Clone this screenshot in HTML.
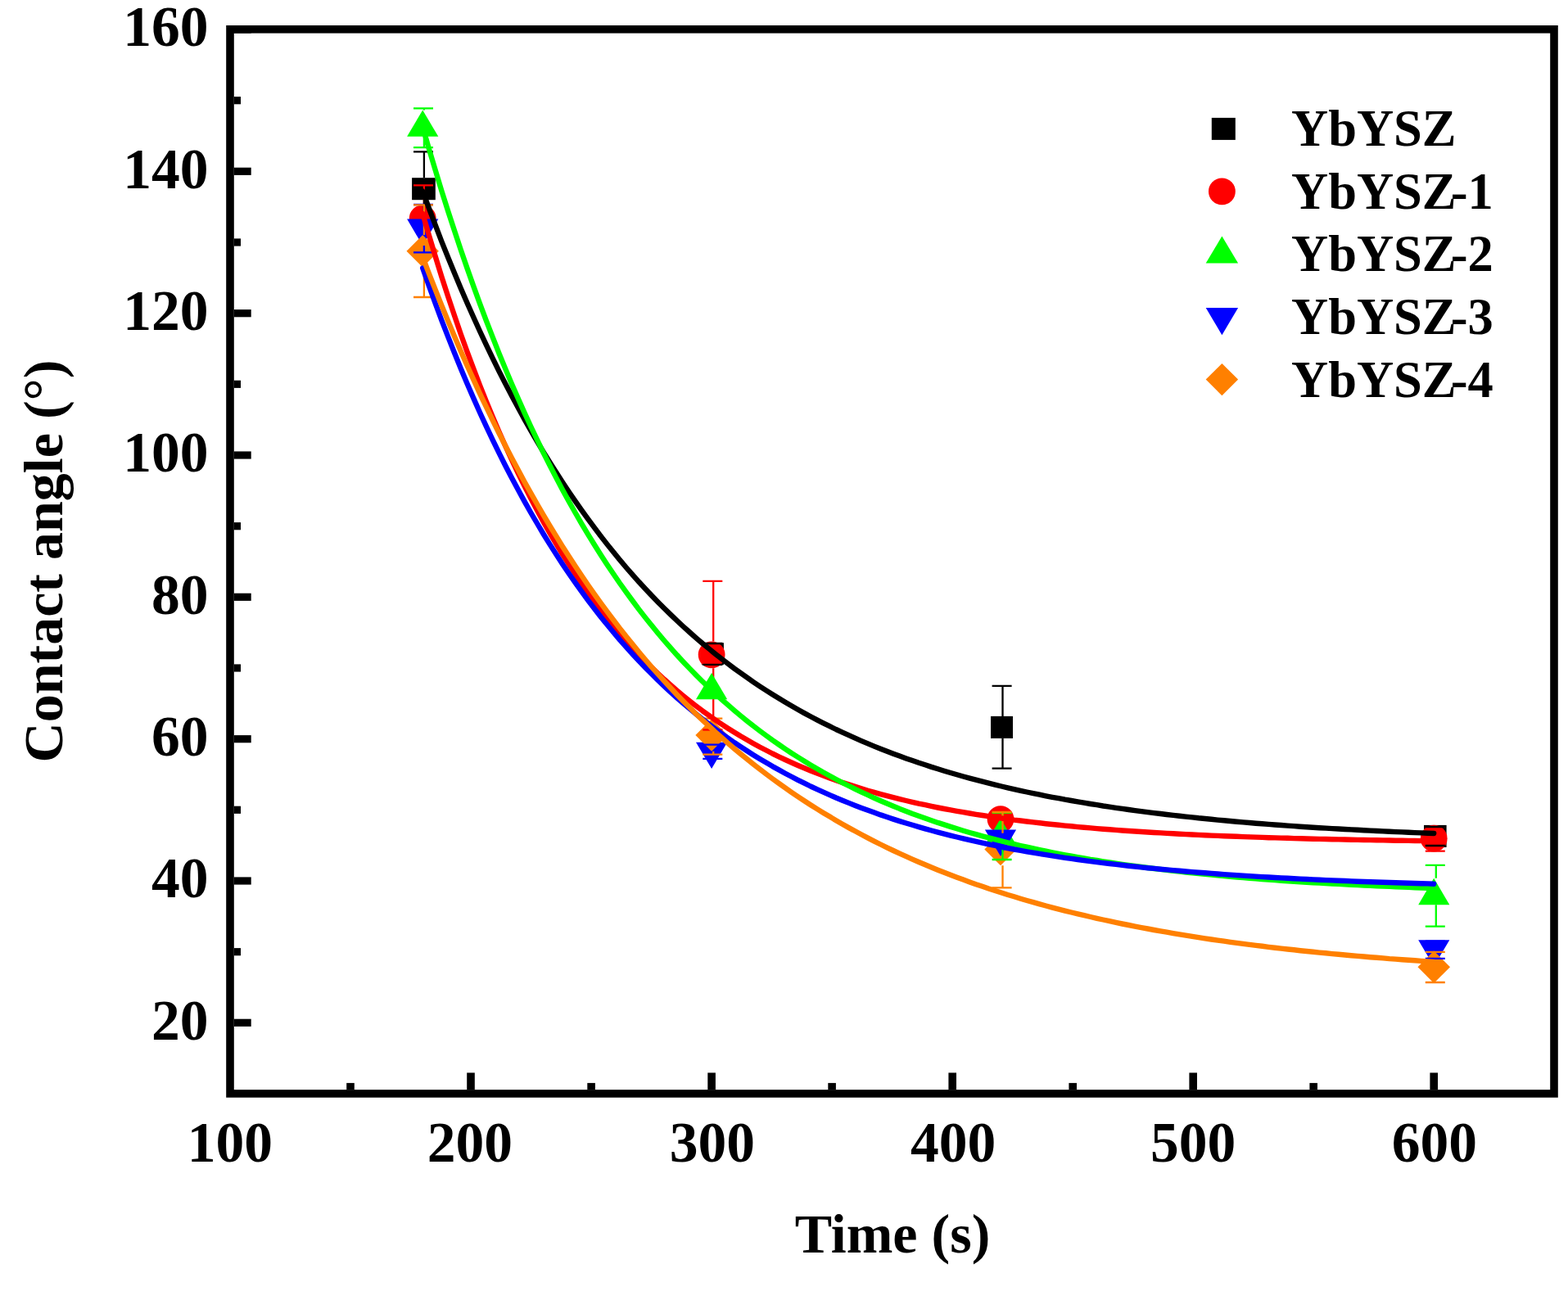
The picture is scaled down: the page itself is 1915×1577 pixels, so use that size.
<!DOCTYPE html><html><head><meta charset="utf-8"><style>html,body{margin:0;padding:0;background:#fff;overflow:hidden;}svg{display:block}text{font-family:'Liberation Serif','Times New Roman',serif;font-weight:bold}</style></head><body>
<svg width="1915" height="1577" viewBox="0 0 1915 1577">
<rect x="0" y="0" width="1915" height="1577" fill="#fff"/>
<g id="data">
<rect x="503.1" y="217.2" width="28.7" height="27" fill="#000000"/><rect x="856.9" y="785.2" width="27" height="27" fill="#000000"/><rect x="1210.0" y="874.9" width="27" height="27" fill="#000000"/><rect x="1739.0" y="1007.9" width="27.6" height="27" fill="#000000"/>
<circle cx="516.2" cy="266.8" r="16.4" fill="#ff0000"/><circle cx="869.1" cy="799.8" r="16.4" fill="#ff0000"/><circle cx="1222.0" cy="1000.6" r="16.4" fill="#ff0000"/><circle cx="1751.2" cy="1024.2" r="16.4" fill="#ff0000"/>
<path d="M517.9,226.4V250.4M517.9,283.2V307.6M505.0,226.4h24M505.0,307.6h24M871.2,709.8V783.4M871.2,816.2V891.5M858.3,709.8h24M858.3,891.5h24M1740.8,1010.2h24M1740.8,1039.7h24" stroke="#ff0000" stroke-width="2.3" fill="none"/>
<path d="M517.9,185.3V217.2M517.9,244.2V275.9M505.0,185.3h24M505.0,275.9h24M858.3,786.0h24M858.3,811.8h24M1224.5,837.8V874.9M1224.5,901.9V938.7M1211.6,837.8h24M1211.6,938.7h24M1740.8,1010.0h24M1740.8,1033.0h24" stroke="#000000" stroke-width="2.3" fill="none"/>
<polygon points="516.2,134.4 535.3,166.8 497.1,166.8" fill="#00ff00"/><polygon points="869.1,821.9 888.2,854.3 850.0,854.3" fill="#00ff00"/><polygon points="1222.0,999.7 1241.1,1032.1 1202.9,1032.1" fill="#00ff00"/><polygon points="1751.2,1072.8 1770.3,1105.2 1732.2,1105.2" fill="#00ff00"/>
<polygon points="516.2,300.0 535.3,267.6 497.1,267.6" fill="#0000ff"/><polygon points="869.1,939.1 888.2,906.7 850.0,906.7" fill="#0000ff"/><polygon points="1751.2,1180.6 1770.3,1148.2 1732.2,1148.2" fill="#0000ff"/>
<polygon points="516.2,287.0 535.9,306.7 516.2,326.4 496.5,306.7" fill="#ff8000"/><polygon points="869.1,878.3 888.8,898.0 869.1,917.7 849.4,898.0" fill="#ff8000"/><polygon points="1222.0,1017.8 1241.7,1037.5 1222.0,1057.2 1202.3,1037.5" fill="#ff8000"/><polygon points="1751.2,1161.5 1771.0,1181.2 1751.2,1200.9 1731.5,1181.2" fill="#ff8000"/>
<polygon points="1222.0,1045.9 1241.1,1013.5 1202.9,1013.5" fill="#0000ff"/>
<path d="M858.3,891.5h24" stroke="#ff0000" stroke-width="2.3" fill="none"/>
<path d="M517.9,132.3V134.4M517.9,166.8V180.2M505.0,132.3h24M505.0,180.2h24M1224.5,992.9V999.7M1224.5,1032.1V1050.0M1211.6,992.9h24M1211.6,1050.0h24M1753.8,1056.8V1072.8M1753.8,1105.2V1131.7M1740.8,1056.8h24M1740.8,1131.7h24" stroke="#00ff00" stroke-width="2.3" fill="none"/>
<path d="M517.9,250.0V267.6M517.9,300.0V308.3M505.0,250.0h24M505.0,308.3h24M858.3,909.6h24M858.3,926.8h24M1740.8,1149.6h24M1740.8,1170.8h24" stroke="#0000ff" stroke-width="2.3" fill="none"/>
<path d="M517.9,250.4V287.0M517.9,326.4V363.0M505.0,250.4h24M505.0,363.0h24M871.2,877.6V878.3M871.2,917.7V921.6M858.3,877.6h24M858.3,921.6h24M1224.5,992.0V1017.8M1224.5,1057.2V1084.3M1211.6,992.0h24M1211.6,1084.3h24M1740.8,1162.8h24M1740.8,1200.0h24" stroke="#ff8000" stroke-width="2.3" fill="none"/>
</g>
<g id="fits" fill="none" stroke-width="6.4" stroke-linecap="round" stroke-linejoin="round">
<path d="M516.2,233.5 L524.0,254.6 L531.8,275.2 L539.5,295.3 L547.3,314.8 L555.1,333.8 L562.8,352.3 L570.6,370.3 L578.4,387.8 L586.1,404.8 L593.9,421.4 L601.7,437.6 L609.4,453.3 L617.2,468.6 L625.0,483.5 L632.8,498.0 L640.5,512.1 L648.3,525.9 L656.1,539.3 L663.8,552.3 L671.6,564.9 L679.4,577.3 L687.1,589.3 L694.9,601.0 L702.7,612.4 L710.4,623.4 L718.2,634.2 L726.0,644.7 L733.7,654.9 L741.5,664.9 L749.3,674.6 L757.0,684.0 L764.8,693.2 L772.6,702.1 L780.3,710.8 L788.1,719.2 L795.9,727.5 L803.6,735.5 L811.4,743.3 L819.2,750.9 L826.9,758.3 L834.7,765.5 L842.5,772.5 L850.2,779.3 L858.0,786.0 L865.8,792.4 L873.5,798.7 L881.3,804.8 L889.1,810.8 L896.8,816.6 L904.6,822.2 L912.4,827.7 L920.1,833.1 L927.9,838.3 L935.7,843.4 L943.4,848.3 L951.2,853.1 L959.0,857.8 L966.7,862.3 L974.5,866.8 L982.3,871.1 L990.0,875.3 L997.8,879.4 L1005.6,883.3 L1013.4,887.2 L1021.1,891.0 L1028.9,894.6 L1036.7,898.2 L1044.4,901.7 L1052.2,905.1 L1060.0,908.4 L1067.7,911.6 L1075.5,914.7 L1083.3,917.7 L1091.0,920.7 L1098.8,923.6 L1106.6,926.4 L1114.3,929.1 L1122.1,931.8 L1129.9,934.3 L1137.6,936.9 L1145.4,939.3 L1153.2,941.7 L1160.9,944.0 L1168.7,946.3 L1176.5,948.5 L1184.2,950.6 L1192.0,952.7 L1199.8,954.7 L1207.5,956.7 L1215.3,958.6 L1223.1,960.5 L1230.8,962.3 L1238.6,964.1 L1246.4,965.8 L1254.1,967.5 L1261.9,969.1 L1269.7,970.7 L1277.4,972.3 L1285.2,973.8 L1293.0,975.2 L1300.7,976.7 L1308.5,978.0 L1316.3,979.4 L1324.0,980.7 L1331.8,982.0 L1339.6,983.2 L1347.3,984.5 L1355.1,985.6 L1362.9,986.8 L1370.6,987.9 L1378.4,989.0 L1386.2,990.1 L1394.0,991.1 L1401.7,992.1 L1409.5,993.1 L1417.3,994.0 L1425.0,995.0 L1432.8,995.9 L1440.6,996.8 L1448.3,997.6 L1456.1,998.4 L1463.9,999.3 L1471.6,1000.0 L1479.4,1000.8 L1487.2,1001.6 L1494.9,1002.3 L1502.7,1003.0 L1510.5,1003.7 L1518.2,1004.4 L1526.0,1005.0 L1533.8,1005.7 L1541.5,1006.3 L1549.3,1006.9 L1557.1,1007.5 L1564.8,1008.0 L1572.6,1008.6 L1580.4,1009.1 L1588.1,1009.7 L1595.9,1010.2 L1603.7,1010.7 L1611.4,1011.2 L1619.2,1011.6 L1627.0,1012.1 L1634.7,1012.5 L1642.5,1013.0 L1650.3,1013.4 L1658.0,1013.8 L1665.8,1014.2 L1673.6,1014.6 L1681.3,1015.0 L1689.1,1015.4 L1696.9,1015.7 L1704.6,1016.1 L1712.4,1016.4 L1720.2,1016.7 L1727.9,1017.1 L1735.7,1017.4 L1743.5,1017.7 L1751.2,1018.0" stroke="#000000"/>
<path d="M516.2,260.9 L524.0,287.7 L531.8,313.5 L539.5,338.5 L547.3,362.5 L555.1,385.8 L562.8,408.2 L570.6,429.9 L578.4,450.7 L586.1,470.9 L593.9,490.4 L601.7,509.2 L609.4,527.3 L617.2,544.8 L625.0,561.7 L632.8,578.0 L640.5,593.7 L648.3,608.9 L656.1,623.6 L663.8,637.7 L671.6,651.4 L679.4,664.6 L687.1,677.3 L694.9,689.6 L702.7,701.4 L710.4,712.9 L718.2,723.9 L726.0,734.6 L733.7,744.9 L741.5,754.8 L749.3,764.4 L757.0,773.6 L764.8,782.6 L772.6,791.2 L780.3,799.5 L788.1,807.5 L795.9,815.3 L803.6,822.7 L811.4,830.0 L819.2,836.9 L826.9,843.6 L834.7,850.1 L842.5,856.4 L850.2,862.4 L858.0,868.3 L865.8,873.9 L873.5,879.3 L881.3,884.6 L889.1,889.7 L896.8,894.5 L904.6,899.3 L912.4,903.8 L920.1,908.2 L927.9,912.5 L935.7,916.5 L943.4,920.5 L951.2,924.3 L959.0,928.0 L966.7,931.5 L974.5,935.0 L982.3,938.3 L990.0,941.5 L997.8,944.6 L1005.6,947.5 L1013.4,950.4 L1021.1,953.2 L1028.9,955.9 L1036.7,958.4 L1044.4,960.9 L1052.2,963.3 L1060.0,965.7 L1067.7,967.9 L1075.5,970.1 L1083.3,972.2 L1091.0,974.2 L1098.8,976.1 L1106.6,978.0 L1114.3,979.8 L1122.1,981.6 L1129.9,983.2 L1137.6,984.9 L1145.4,986.5 L1153.2,988.0 L1160.9,989.4 L1168.7,990.8 L1176.5,992.2 L1184.2,993.5 L1192.0,994.8 L1199.8,996.0 L1207.5,997.2 L1215.3,998.4 L1223.1,999.5 L1230.8,1000.5 L1238.6,1001.6 L1246.4,1002.5 L1254.1,1003.5 L1261.9,1004.4 L1269.7,1005.3 L1277.4,1006.2 L1285.2,1007.0 L1293.0,1007.8 L1300.7,1008.6 L1308.5,1009.3 L1316.3,1010.1 L1324.0,1010.8 L1331.8,1011.4 L1339.6,1012.1 L1347.3,1012.7 L1355.1,1013.3 L1362.9,1013.9 L1370.6,1014.5 L1378.4,1015.0 L1386.2,1015.5 L1394.0,1016.0 L1401.7,1016.5 L1409.5,1017.0 L1417.3,1017.4 L1425.0,1017.9 L1432.8,1018.3 L1440.6,1018.7 L1448.3,1019.1 L1456.1,1019.5 L1463.9,1019.9 L1471.6,1020.2 L1479.4,1020.6 L1487.2,1020.9 L1494.9,1021.2 L1502.7,1021.5 L1510.5,1021.8 L1518.2,1022.1 L1526.0,1022.4 L1533.8,1022.6 L1541.5,1022.9 L1549.3,1023.2 L1557.1,1023.4 L1564.8,1023.6 L1572.6,1023.8 L1580.4,1024.1 L1588.1,1024.3 L1595.9,1024.5 L1603.7,1024.7 L1611.4,1024.9 L1619.2,1025.0 L1627.0,1025.2 L1634.7,1025.4 L1642.5,1025.5 L1650.3,1025.7 L1658.0,1025.9 L1665.8,1026.0 L1673.6,1026.1 L1681.3,1026.3 L1689.1,1026.4 L1696.9,1026.5 L1704.6,1026.7 L1712.4,1026.8 L1720.2,1026.9 L1727.9,1027.0 L1735.7,1027.1 L1743.5,1027.2 L1751.2,1027.3" stroke="#ff0000"/>
<path d="M516.2,155.2 L524.0,182.1 L531.8,208.2 L539.5,233.6 L547.3,258.2 L555.1,282.1 L562.8,305.3 L570.6,327.9 L578.4,349.9 L586.1,371.2 L593.9,391.8 L601.7,411.9 L609.4,431.5 L617.2,450.4 L625.0,468.9 L632.8,486.8 L640.5,504.1 L648.3,521.0 L656.1,537.4 L663.8,553.4 L671.6,568.8 L679.4,583.9 L687.1,598.5 L694.9,612.7 L702.7,626.5 L710.4,639.8 L718.2,652.8 L726.0,665.5 L733.7,677.7 L741.5,689.7 L749.3,701.2 L757.0,712.5 L764.8,723.4 L772.6,734.0 L780.3,744.3 L788.1,754.4 L795.9,764.1 L803.6,773.5 L811.4,782.7 L819.2,791.6 L826.9,800.3 L834.7,808.7 L842.5,816.9 L850.2,824.8 L858.0,832.5 L865.8,840.0 L873.5,847.3 L881.3,854.4 L889.1,861.2 L896.8,867.9 L904.6,874.4 L912.4,880.7 L920.1,886.8 L927.9,892.7 L935.7,898.5 L943.4,904.1 L951.2,909.5 L959.0,914.8 L966.7,920.0 L974.5,924.9 L982.3,929.8 L990.0,934.5 L997.8,939.1 L1005.6,943.5 L1013.4,947.8 L1021.1,952.0 L1028.9,956.1 L1036.7,960.0 L1044.4,963.9 L1052.2,967.6 L1060.0,971.2 L1067.7,974.8 L1075.5,978.2 L1083.3,981.5 L1091.0,984.7 L1098.8,987.9 L1106.6,990.9 L1114.3,993.9 L1122.1,996.7 L1129.9,999.5 L1137.6,1002.2 L1145.4,1004.9 L1153.2,1007.4 L1160.9,1009.9 L1168.7,1012.3 L1176.5,1014.7 L1184.2,1017.0 L1192.0,1019.2 L1199.8,1021.3 L1207.5,1023.4 L1215.3,1025.4 L1223.1,1027.4 L1230.8,1029.3 L1238.6,1031.2 L1246.4,1033.0 L1254.1,1034.7 L1261.9,1036.4 L1269.7,1038.1 L1277.4,1039.7 L1285.2,1041.3 L1293.0,1042.8 L1300.7,1044.3 L1308.5,1045.7 L1316.3,1047.1 L1324.0,1048.4 L1331.8,1049.8 L1339.6,1051.0 L1347.3,1052.3 L1355.1,1053.5 L1362.9,1054.6 L1370.6,1055.8 L1378.4,1056.9 L1386.2,1057.9 L1394.0,1059.0 L1401.7,1060.0 L1409.5,1061.0 L1417.3,1061.9 L1425.0,1062.9 L1432.8,1063.8 L1440.6,1064.6 L1448.3,1065.5 L1456.1,1066.3 L1463.9,1067.1 L1471.6,1067.9 L1479.4,1068.6 L1487.2,1069.4 L1494.9,1070.1 L1502.7,1070.8 L1510.5,1071.5 L1518.2,1072.1 L1526.0,1072.7 L1533.8,1073.4 L1541.5,1074.0 L1549.3,1074.5 L1557.1,1075.1 L1564.8,1075.7 L1572.6,1076.2 L1580.4,1076.7 L1588.1,1077.2 L1595.9,1077.7 L1603.7,1078.2 L1611.4,1078.6 L1619.2,1079.1 L1627.0,1079.5 L1634.7,1079.9 L1642.5,1080.4 L1650.3,1080.7 L1658.0,1081.1 L1665.8,1081.5 L1673.6,1081.9 L1681.3,1082.2 L1689.1,1082.6 L1696.9,1082.9 L1704.6,1083.2 L1712.4,1083.6 L1720.2,1083.9 L1727.9,1084.2 L1735.7,1084.5 L1743.5,1084.7 L1751.2,1085.0" stroke="#00ff00"/>
<path d="M516.2,327.5 L524.0,349.5 L531.8,370.8 L539.5,391.6 L547.3,411.7 L555.1,431.3 L562.8,450.3 L570.6,468.7 L578.4,486.6 L586.1,504.0 L593.9,520.9 L601.7,537.3 L609.4,553.2 L617.2,568.7 L625.0,583.7 L632.8,598.3 L640.5,612.4 L648.3,626.2 L656.1,639.5 L663.8,652.5 L671.6,665.1 L679.4,677.3 L687.1,689.2 L694.9,700.7 L702.7,711.9 L710.4,722.7 L718.2,733.3 L726.0,743.5 L733.7,753.5 L741.5,763.1 L749.3,772.5 L757.0,781.6 L764.8,790.4 L772.6,799.0 L780.3,807.4 L788.1,815.5 L795.9,823.3 L803.6,831.0 L811.4,838.4 L819.2,845.6 L826.9,852.6 L834.7,859.3 L842.5,865.9 L850.2,872.3 L858.0,878.5 L865.8,884.6 L873.5,890.4 L881.3,896.1 L889.1,901.6 L896.8,907.0 L904.6,912.2 L912.4,917.3 L920.1,922.2 L927.9,927.0 L935.7,931.6 L943.4,936.1 L951.2,940.4 L959.0,944.7 L966.7,948.8 L974.5,952.8 L982.3,956.7 L990.0,960.5 L997.8,964.1 L1005.6,967.7 L1013.4,971.1 L1021.1,974.5 L1028.9,977.7 L1036.7,980.9 L1044.4,983.9 L1052.2,986.9 L1060.0,989.8 L1067.7,992.6 L1075.5,995.4 L1083.3,998.0 L1091.0,1000.6 L1098.8,1003.1 L1106.6,1005.5 L1114.3,1007.8 L1122.1,1010.1 L1129.9,1012.4 L1137.6,1014.5 L1145.4,1016.6 L1153.2,1018.6 L1160.9,1020.6 L1168.7,1022.5 L1176.5,1024.4 L1184.2,1026.2 L1192.0,1027.9 L1199.8,1029.6 L1207.5,1031.3 L1215.3,1032.9 L1223.1,1034.5 L1230.8,1036.0 L1238.6,1037.5 L1246.4,1038.9 L1254.1,1040.3 L1261.9,1041.6 L1269.7,1042.9 L1277.4,1044.2 L1285.2,1045.4 L1293.0,1046.6 L1300.7,1047.8 L1308.5,1048.9 L1316.3,1050.0 L1324.0,1051.1 L1331.8,1052.1 L1339.6,1053.1 L1347.3,1054.1 L1355.1,1055.0 L1362.9,1055.9 L1370.6,1056.8 L1378.4,1057.7 L1386.2,1058.5 L1394.0,1059.4 L1401.7,1060.2 L1409.5,1060.9 L1417.3,1061.7 L1425.0,1062.4 L1432.8,1063.1 L1440.6,1063.8 L1448.3,1064.5 L1456.1,1065.1 L1463.9,1065.7 L1471.6,1066.3 L1479.4,1066.9 L1487.2,1067.5 L1494.9,1068.1 L1502.7,1068.6 L1510.5,1069.1 L1518.2,1069.6 L1526.0,1070.1 L1533.8,1070.6 L1541.5,1071.1 L1549.3,1071.5 L1557.1,1072.0 L1564.8,1072.4 L1572.6,1072.8 L1580.4,1073.2 L1588.1,1073.6 L1595.9,1074.0 L1603.7,1074.4 L1611.4,1074.7 L1619.2,1075.1 L1627.0,1075.4 L1634.7,1075.7 L1642.5,1076.0 L1650.3,1076.4 L1658.0,1076.7 L1665.8,1077.0 L1673.6,1077.2 L1681.3,1077.5 L1689.1,1077.8 L1696.9,1078.0 L1704.6,1078.3 L1712.4,1078.5 L1720.2,1078.8 L1727.9,1079.0 L1735.7,1079.2 L1743.5,1079.4 L1751.2,1079.7" stroke="#0000ff"/>
<path d="M516.2,314.0 L524.0,334.3 L531.8,354.1 L539.5,373.5 L547.3,392.4 L555.1,410.9 L562.8,429.0 L570.6,446.7 L578.4,463.9 L586.1,480.8 L593.9,497.2 L601.7,513.3 L609.4,529.0 L617.2,544.4 L625.0,559.4 L632.8,574.1 L640.5,588.4 L648.3,602.4 L656.1,616.0 L663.8,629.4 L671.6,642.5 L679.4,655.2 L687.1,667.7 L694.9,679.8 L702.7,691.7 L710.4,703.3 L718.2,714.7 L726.0,725.8 L733.7,736.6 L741.5,747.2 L749.3,757.5 L757.0,767.6 L764.8,777.5 L772.6,787.1 L780.3,796.6 L788.1,805.8 L795.9,814.8 L803.6,823.5 L811.4,832.1 L819.2,840.5 L826.9,848.7 L834.7,856.7 L842.5,864.5 L850.2,872.2 L858.0,879.6 L865.8,886.9 L873.5,894.1 L881.3,901.0 L889.1,907.8 L896.8,914.5 L904.6,921.0 L912.4,927.3 L920.1,933.5 L927.9,939.6 L935.7,945.5 L943.4,951.2 L951.2,956.9 L959.0,962.4 L966.7,967.8 L974.5,973.1 L982.3,978.2 L990.0,983.2 L997.8,988.1 L1005.6,992.9 L1013.4,997.6 L1021.1,1002.2 L1028.9,1006.7 L1036.7,1011.1 L1044.4,1015.3 L1052.2,1019.5 L1060.0,1023.6 L1067.7,1027.6 L1075.5,1031.5 L1083.3,1035.3 L1091.0,1039.0 L1098.8,1042.6 L1106.6,1046.1 L1114.3,1049.6 L1122.1,1053.0 L1129.9,1056.3 L1137.6,1059.5 L1145.4,1062.7 L1153.2,1065.8 L1160.9,1068.8 L1168.7,1071.7 L1176.5,1074.6 L1184.2,1077.4 L1192.0,1080.2 L1199.8,1082.8 L1207.5,1085.5 L1215.3,1088.0 L1223.1,1090.5 L1230.8,1093.0 L1238.6,1095.3 L1246.4,1097.7 L1254.1,1100.0 L1261.9,1102.2 L1269.7,1104.4 L1277.4,1106.5 L1285.2,1108.6 L1293.0,1110.6 L1300.7,1112.6 L1308.5,1114.5 L1316.3,1116.4 L1324.0,1118.2 L1331.8,1120.0 L1339.6,1121.8 L1347.3,1123.5 L1355.1,1125.2 L1362.9,1126.9 L1370.6,1128.5 L1378.4,1130.0 L1386.2,1131.6 L1394.0,1133.1 L1401.7,1134.5 L1409.5,1136.0 L1417.3,1137.4 L1425.0,1138.7 L1432.8,1140.1 L1440.6,1141.4 L1448.3,1142.6 L1456.1,1143.9 L1463.9,1145.1 L1471.6,1146.3 L1479.4,1147.5 L1487.2,1148.6 L1494.9,1149.7 L1502.7,1150.8 L1510.5,1151.8 L1518.2,1152.9 L1526.0,1153.9 L1533.8,1154.9 L1541.5,1155.8 L1549.3,1156.8 L1557.1,1157.7 L1564.8,1158.6 L1572.6,1159.5 L1580.4,1160.3 L1588.1,1161.2 L1595.9,1162.0 L1603.7,1162.8 L1611.4,1163.6 L1619.2,1164.3 L1627.0,1165.1 L1634.7,1165.8 L1642.5,1166.5 L1650.3,1167.2 L1658.0,1167.9 L1665.8,1168.5 L1673.6,1169.2 L1681.3,1169.8 L1689.1,1170.4 L1696.9,1171.1 L1704.6,1171.6 L1712.4,1172.2 L1720.2,1172.8 L1727.9,1173.3 L1735.7,1173.9 L1743.5,1174.4 L1751.2,1174.9" stroke="#ff8000"/>
</g>
<g id="axes" fill="none" stroke="#000">
<rect x="281" y="35.8" width="1617" height="1300.1" stroke-width="9.6"/>
<path d="M285.8,1249.3H306.7" stroke-width="9.2"/>
<path d="M285.8,1076.0H306.7" stroke-width="9.2"/>
<path d="M285.8,902.7H306.7" stroke-width="9.2"/>
<path d="M285.8,729.3H306.7" stroke-width="9.2"/>
<path d="M285.8,556.0H306.7" stroke-width="9.2"/>
<path d="M285.8,382.7H306.7" stroke-width="9.2"/>
<path d="M285.8,209.3H306.7" stroke-width="9.2"/>
<path d="M285.8,36.0H306.7" stroke-width="9.2"/>
<path d="M285.8,1162.7H294" stroke-width="9.2"/>
<path d="M285.8,989.3H294" stroke-width="9.2"/>
<path d="M285.8,816.0H294" stroke-width="9.2"/>
<path d="M285.8,642.7H294" stroke-width="9.2"/>
<path d="M285.8,469.3H294" stroke-width="9.2"/>
<path d="M285.8,296.0H294" stroke-width="9.2"/>
<path d="M285.8,122.7H294" stroke-width="9.2"/>
<path d="M575.0,1331.1V1310.4" stroke-width="9.6"/>
<path d="M869.1,1331.1V1310.4" stroke-width="9.6"/>
<path d="M1163.2,1331.1V1310.4" stroke-width="9.6"/>
<path d="M1457.2,1331.1V1310.4" stroke-width="9.6"/>
<path d="M1751.2,1331.1V1310.4" stroke-width="9.6"/>
<path d="M428.0,1331.1V1322.9" stroke-width="9.6"/>
<path d="M722.1,1331.1V1322.9" stroke-width="9.6"/>
<path d="M1016.1,1331.1V1322.9" stroke-width="9.6"/>
<path d="M1310.2,1331.1V1322.9" stroke-width="9.6"/>
<path d="M1604.2,1331.1V1322.9" stroke-width="9.6"/>
</g>
<g id="ylabels" font-size="69.5" text-anchor="end" fill="#000">
<text x="254.5" y="1269.6">20</text>
<text x="254.5" y="1096.3">40</text>
<text x="254.5" y="923.0">60</text>
<text x="254.5" y="749.6">80</text>
<text x="254.5" y="576.3">100</text>
<text x="254.5" y="403.0">120</text>
<text x="254.5" y="229.6">140</text>
<text x="254.5" y="56.3">160</text>
</g>
<g id="xlabels" font-size="69.5" text-anchor="middle" fill="#000">
<text x="280.9" y="1419">100</text>
<text x="573.8" y="1419">200</text>
<text x="869.8" y="1419">300</text>
<text x="1164.0" y="1419">400</text>
<text x="1457.0" y="1419">500</text>
<text x="1751.8" y="1419">600</text>
</g>
<text x="1090" y="1530.4" font-size="68" text-anchor="middle">Time (s)</text>
<text transform="translate(76,685.5) rotate(-90)" x="0" y="0" font-size="68" text-anchor="middle">Contact angle (°)</text>
<g id="legend">
<rect x="1479.8" y="143.9" width="29" height="27" fill="#000000"/>
<text x="1577" y="177.9" font-size="62.5">YbYSZ</text>
<circle cx="1492.4" cy="233.9" r="16.4" fill="#ff0000"/>
<text x="1577" y="254.6" font-size="62.5">YbYSZ<tspan dx="-6.8">-1</tspan></text>
<polygon points="1492.4,288.4 1512.1,321.6 1472.7,321.6" fill="#00ff00"/>
<text x="1577" y="331.3" font-size="62.5">YbYSZ<tspan dx="-6.8">-2</tspan></text>
<polygon points="1492.4,409.2 1512.1,376.0 1472.7,376.0" fill="#0000ff"/>
<text x="1577" y="408.0" font-size="62.5">YbYSZ<tspan dx="-6.8">-3</tspan></text>
<polygon points="1492.4,443.9 1512.1,463.6 1492.4,483.3 1472.7,463.6" fill="#ff8000"/>
<text x="1577" y="484.7" font-size="62.5">YbYSZ<tspan dx="-6.8">-4</tspan></text>
</g>
</svg></body></html>
